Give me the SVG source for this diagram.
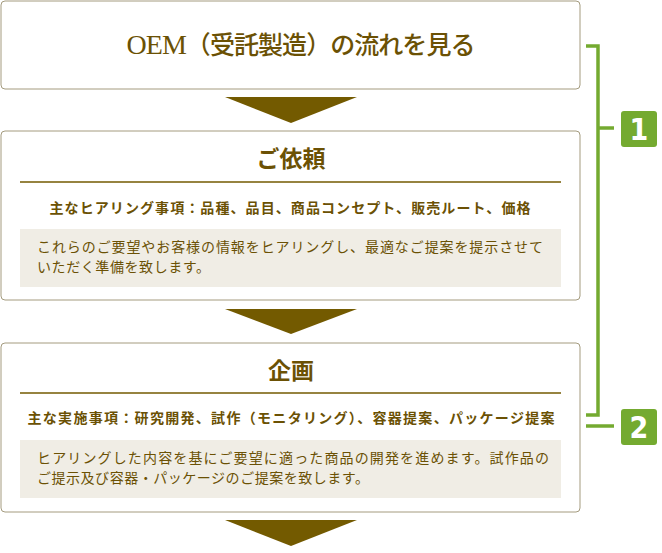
<svg xmlns="http://www.w3.org/2000/svg" width="662" height="553" viewBox="0 0 662 553">
<style>
.box{fill:#fff;stroke:#a49b7f;stroke-width:1}
.sep{stroke:#735a00;stroke-width:1.3}
.panel{fill:#f0ede5}
.arrow{fill:#735a00}
.t{fill:#6b5104;font-family:"Liberation Serif","Noto Sans CJK JP",serif}
.title{font-size:25px;font-weight:500;text-anchor:middle}
.oem{font-size:28px}
.head{font-size:23px;font-weight:bold;text-anchor:middle}
.sub{font-size:14px;font-weight:bold;text-anchor:middle}
.body{font-size:14px}
.br{stroke:#74aa30;stroke-width:3.5;fill:none}
.badge{fill:#74aa30}
.num{fill:#fff;font-family:"DejaVu Sans Condensed","DejaVu Sans",sans-serif;font-weight:bold;font-size:30px;text-anchor:middle}
</style>
<g id="connectors">
<polygon class="arrow" points="225,97 357,97 291,123"/>
<polygon class="arrow" points="225,309 357,309 291,334"/>
<polygon class="arrow" points="225,520 357,520 291,546"/>
</g>
<g id="node-oem">
<rect class="box" x="1" y="1" width="579" height="88" rx="4"/>
<text class="t title" x="301" y="54" textLength="349" lengthAdjust="spacing"><tspan class="oem">OEM</tspan>（受託製造）の流れを見る</text>
</g>
<g id="node-irai">
<rect class="box" x="1" y="131" width="579" height="169" rx="4"/>
<text class="t head" x="291" y="167">ご依頼</text>
<line class="sep" x1="20" y1="182" x2="561" y2="182"/>
<text class="t sub" x="290" y="213" textLength="481" lengthAdjust="spacing">主なヒアリング事項：品種、品目、商品コンセプト、販売ルート、価格</text>
<rect class="panel" x="20" y="229" width="541" height="58"/>
<text class="t body" x="37" y="252" textLength="506" lengthAdjust="spacing">これらのご要望やお客様の情報をヒアリングし、最適なご提案を提示させて</text>
<text class="t body" x="37" y="272" textLength="173" lengthAdjust="spacing">いただく準備を致します。</text>
</g>
<g id="node-kikaku">
<rect class="box" x="1" y="343" width="579" height="169" rx="4"/>
<text class="t head" x="291" y="379">企画</text>
<line class="sep" x1="20" y1="393" x2="561" y2="393"/>
<text class="t sub" x="291" y="423" textLength="527" lengthAdjust="spacing">主な実施事項：研究開発、試作（モニタリング）、容器提案、パッケージ提案</text>
<rect class="panel" x="20" y="440" width="541" height="58"/>
<text class="t body" x="37" y="463" textLength="512" lengthAdjust="spacing">ヒアリングした内容を基にご要望に適った商品の開発を進めます。試作品の</text>
<text class="t body" x="37" y="483" textLength="332" lengthAdjust="spacing">ご提示及び容器・パッケージのご提案を致します。</text>
</g>
<g id="bracket">
<polyline class="br" points="586,46 598,46 598,415 586,415"/>
<line class="br" x1="598" y1="128" x2="614" y2="128"/>
<line class="br" x1="586" y1="426" x2="614" y2="426"/>
</g>
<g id="badge-1">
<rect class="badge" x="621" y="111" width="36" height="36" rx="3"/>
<text class="num" x="639" y="140">1</text>
</g>
<g id="badge-2">
<rect class="badge" x="621" y="409" width="36" height="36" rx="3"/>
<text class="num" x="639" y="438">2</text>
</g>
</svg>
